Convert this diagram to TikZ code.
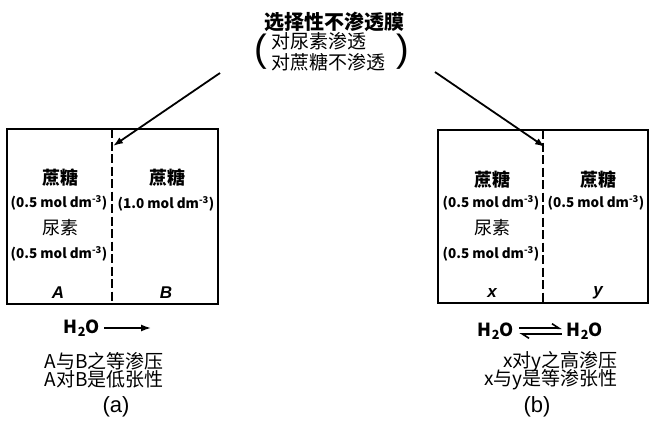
\documentclass[tikz,border=0pt]{standalone}
\usepackage{fontspec}
\setmainfont{Noto Sans CJK SC}
\newfontfamily\latfont{Liberation Sans}
\usetikzlibrary{positioning,calc,arrows.meta}
\tikzset{
    sugar/.style={font=\fontsize{18}{20}\selectfont\bfseries},
    urea/.style={font=\fontsize{18}{20}\selectfont},
    conc/.style={font=\fontsize{13.5}{16}\selectfont\bfseries, inner sep=0pt},
    side/.style={font=\fontsize{17}{20}\selectfont\latfont\bfseries\itshape},
    note/.style={font=\fontsize{19}{21}\selectfont, inner sep=0pt},
    water/.style={font=\fontsize{18}{20}\selectfont\bfseries, inner sep=1pt},
    caption/.style={font=\fontsize{22}{24}\selectfont\latfont},
    wall/.style={line width=2.4pt},
    memline/.style={line width=2pt, dash pattern=on 9pt off 3.5pt},
    pointer/.style={line width=1.8pt, -{Latex[length=10pt, width=7pt]}},
    harp/.style={line width=1.6pt, shorten >=4pt, shorten <=4pt, -{Straight Barb[harpoon, length=7pt, width=9pt]}}
}
\begin{document}
\begin{tikzpicture}[x=1pt,y=-1pt,>=latex]
        \useasboundingbox (0,0) rectangle (651,421);

        % the membrane label
        \node[font=\fontsize{20}{22}\selectfont\bfseries] (memb) at (334,22) {选择性不渗透膜};
        \node[font=\fontsize{19}{21}\selectfont, align=left, anchor=north west, inner sep=0pt] (cond) at (271,32) {对尿素渗透\\对蔗糖不渗透};
        \node[font=\fontsize{38}{40}\selectfont\latfont, left=0pt of cond] (lpar) {(};
        \node[font=\fontsize{38}{40}\selectfont\latfont, right=8pt of cond] (rpar) {)};

        % draw the two boxes
        \draw[wall] (7,129) rectangle (218,304);
        \draw[wall] (438,130) rectangle (648,303);

        % the membranes between the halves
        \coordinate (memAtop) at (112,129);
        \coordinate (memAbot) at (112,304);
        \coordinate (memBtop) at (543,130);
        \coordinate (memBbot) at (543,303);
        \draw[memline] (memAtop) -- (memAbot);
        \draw[memline] (memBtop) -- (memBbot);

        % arrows from the label to the membranes
        \coordinate (fromA) at (220,73);
        \coordinate (tipA) at (113,146);
        \coordinate (fromB) at (435,72);
        \coordinate (tipB) at (545,147);
        \draw[pointer] (fromA) -- (tipA);
        \draw[pointer] (fromB) -- (tipB);

        % sucrose and urea
        \foreach \n/\px/\py in {sugA/60/178, sugB/167/178, sugX/492/180, sugY/598/180}
                \node[sugar] (\n) at (\px,\py) {蔗糖};
        \foreach \n/\px/\py in {ureaA/60/228, ureaX/492/228}
                \node[urea] (\n) at (\px,\py) {尿素};

        % concentrations
        \foreach \n/\px/\py/\c in {
            cSugA/59/203/0.5,
            cSugB/166/204/1.0,
            cUreaA/59/254/0.5,
            cSugX/491/203/0.5,
            cSugY/596/203/0.5,
            cUreaX/491/254/0.5}
                \node[conc] (\n) at (\px,\py) {(\c\ mol dm\textsuperscript{-3})};

        % names of the halves
        \foreach \n/\px/\py/\s in {sideA/58/293/A, sideB/166/293/B, sideX/492/293/x, sideY/598/293/y}
                \node[side] (\n) at (\px,\py) {\s};

        % (a): water flows one way
        \node[water] (wA) at (82,328) {H\textsubscript{2}O};
        \coordinate (wAend) at (151,328);
        \draw[pointer, line width=1.5pt, shorten <=3pt] (wA) -- (wAend);
        \node[note] (noteA1) at (104,361) {A与B之等渗压};
        \node[note] (noteA2) at (104,379) {A对B是低张性};
        \node[caption] (capA) at (116,407) {(a)};

        % (b): water flows both ways
        \node[water] (wX) at (496,331) {H\textsubscript{2}O};
        \node[water] (wY) at (585,331) {H\textsubscript{2}O};
        \draw[harp, transform canvas={yshift=2.8pt}] (wX) -- (wY);
        \draw[harp, transform canvas={yshift=-2.8pt}] (wY) -- (wX);
        \node[note, anchor=east] (noteB1) at (618,362) {x对y之高渗压};
        \node[note, anchor=east] (noteB2) at (618,380) {x与y是等渗张性};
        \node[caption] (capB) at (537,407) {(b)};
\end{tikzpicture}
\end{document}
